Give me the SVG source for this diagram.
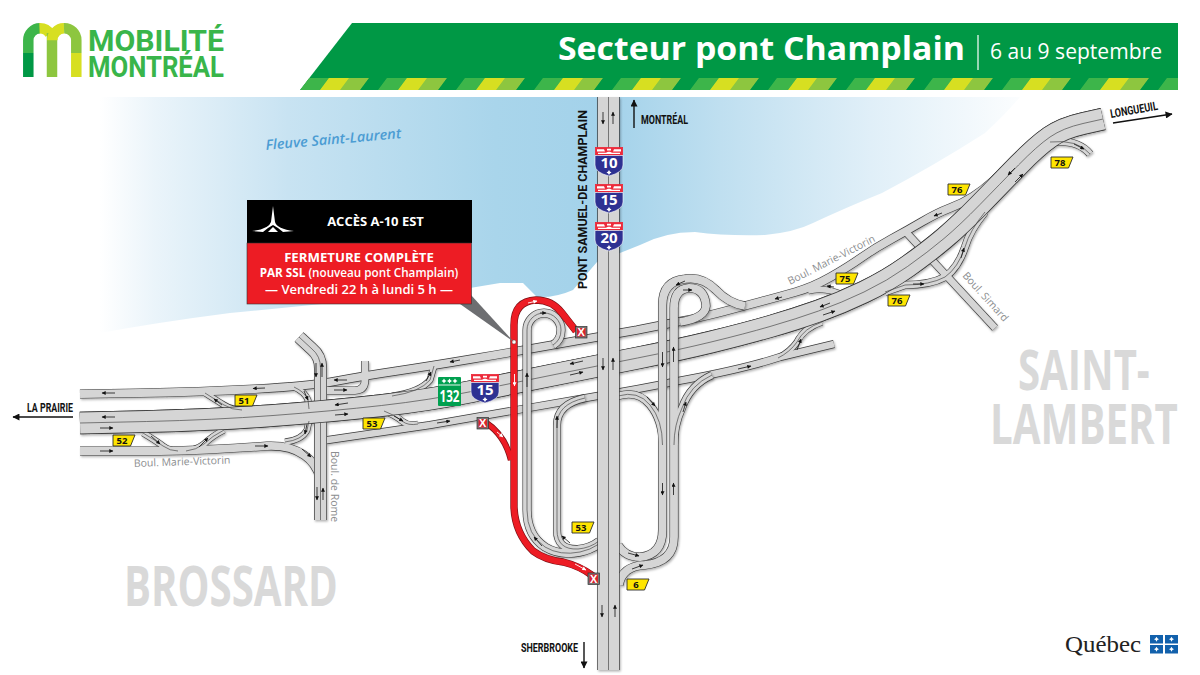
<svg xmlns="http://www.w3.org/2000/svg" width="1200" height="675" viewBox="0 0 1200 675">
<style>
.o,.f,.c,.a,.aw,.ab{fill:none}
.o{stroke:#3a3a3a;stroke-linejoin:round}
.f{stroke:#d5d5d5;stroke-linejoin:round}
.c{stroke:#4a4a4a;stroke-width:.7}
.o22{stroke-width:22.6}.f22{stroke-width:21.2}
.o21{stroke-width:22.400}.f21{stroke-width:21}
.o12{stroke-width:13}.f12{stroke-width:11.600}
.o8{stroke-width:9}.f8{stroke-width:7.800}
.o7{stroke-width:8}.f7{stroke-width:6.800}
.o6{stroke-width:6.800}.f6{stroke-width:5.600}
.a{stroke:#111;stroke-width:.8;marker-end:url(#ah)}
.aw{stroke:#fff;stroke-width:.9;marker-end:url(#ahw)}
.ab{stroke:#111;stroke-width:1.400;marker-end:url(#ahb)}
.red{fill:none;stroke:#ed1c24;stroke-linejoin:round}
.redo{fill:none;stroke:#7c1116;stroke-linejoin:round}
.sans{font-family:"Open Sans","Liberation Sans",sans-serif}
.cond{font-family:"Liberation Sans Narrow",Roboto,"Liberation Sans",sans-serif;font-weight:700;fill:#111;font-size:12px}
.rn{font-family:"Open Sans","Liberation Sans",sans-serif;font-size:10.500px;fill:#8c8e90}
.city{font-family:"Liberation Sans Narrow","Open Sans","Liberation Sans",sans-serif;font-weight:700;fill:#d9d9d9}
.sh{font-family:"Open Sans","Liberation Sans",sans-serif;font-weight:700;font-size:9.500px;fill:#111;text-anchor:middle}
.num{font-family:"Open Sans","Liberation Sans",sans-serif;font-weight:700;font-size:15px;fill:#fff;text-anchor:middle}
.w{fill:#fff;text-anchor:middle}
.xt{font-family:"Liberation Sans",sans-serif;font-weight:700;font-size:11px;fill:#fff;text-anchor:middle}
.logot{font-family:"Liberation Sans Narrow",Roboto,sans-serif;font-weight:700;font-size:30px;fill:#39b54a}
</style>
<defs>
<linearGradient id="water" gradientUnits="userSpaceOnUse" x1="100" y1="0" x2="1040" y2="0">
<stop offset="0" stop-color="#fff"/><stop offset=".06" stop-color="#eaf4fa"/><stop offset=".2" stop-color="#c8e3f2"/><stop offset=".42" stop-color="#a9d5eb"/><stop offset=".54" stop-color="#a3d2ea"/><stop offset=".66" stop-color="#bfdff0"/><stop offset=".82" stop-color="#e0eff8"/><stop offset="1" stop-color="#fff"/>
</linearGradient>
<pattern id="stripes" patternUnits="userSpaceOnUse" width="78" height="12" patternTransform="translate(300 90) skewX(-36.7)">
<rect width="20" height="12" fill="#3db54a"/><rect x="20" width="20" height="12" fill="#d7df21"/><rect x="40" width="20" height="12" fill="#8dc63f"/>
</pattern>
<marker id="ah" viewBox="0 0 6 6" refX="5.500" refY="3" markerUnits="userSpaceOnUse" markerWidth="5.500" markerHeight="4" orient="auto"><path d="M0 0L6 3L0 6Z" fill="#111"/></marker>
<marker id="ahw" viewBox="0 0 6 6" refX="5.500" refY="3" markerUnits="userSpaceOnUse" markerWidth="5.500" markerHeight="4" orient="auto"><path d="M0 0L6 3L0 6Z" fill="#fff"/></marker>
<marker id="ahb" viewBox="0 0 6 6" refX="5.500" refY="3" markerUnits="userSpaceOnUse" markerWidth="10" markerHeight="7" orient="auto"><path d="M0 0L6 3L0 6Z" fill="#111"/></marker>
<filter id="sd" x="-5%" y="-5%" width="110%" height="110%"><feDropShadow dx="1" dy="1.500" stdDeviation="1.100" flood-color="#000" flood-opacity=".3"/></filter>
<path id="shield" d="M0 0H22L17.500 11H0Z" fill="#ffe500" stroke="#2b2b2b" stroke-width=".9"/>
<path id="fleur" d="M0 -2.500L.9 -.9L2.500 0L.9 .9L0 2.500L-.9 .9L-2.500 0L-.9 -.9Z" fill="#fff"/>
<g id="inter">
<rect x=".4" y=".4" width="27.200" height="7.600" fill="#ed2a3a" stroke="#ed2a3a" stroke-width=".8"/>
<path d="M2 2.200H9L10 4.500H2ZM26 2.200H19L18 4.500H26ZM12 1.800H16V3.500H12ZM3 5.700H11L13 4.800H15L17 5.700H25V6.900H3Z" fill="#fff"/>
<path d="M0 8.500H28V18Q28 25.500 14 29Q0 25.500 0 18Z" fill="#2e3192" stroke="#fff" stroke-width=".6"/>
<use href="#fleur" x="14" y="25.500"/>
</g>
<path id="rMain" d="M80 423L146.500 421.500Q213 420 273 415.500Q333 411 381.500 405.500Q430 400 471.500 391.500Q513 383 555 374.500Q597 366 637.500 358Q678 350 711 342Q744 334 770 326.500Q796 319 818.500 311Q841 303 864 292Q887 281 907.500 266.500Q928 252 944 238.500Q960 225 980 204.500Q1000 184 1018.500 165Q1037 146 1050 137Q1063 128 1083 123.500L1103 119"/>
<path id="rTop" d="M80 394L140 393Q200 392 255 389Q310 386 336.500 381Q363 376 396.500 371Q430 366 471.500 359Q513 352 555 344.500Q597 337 637 330L677 322Q703 317 723.500 311.500Q744 306 761 301.500Q778 297 795.500 292Q813 287 830.500 277Q848 267 861.500 257.500Q875 248 891.500 239Q908 230 922.500 221.500Q937 213 950 208Q963 203 973 196.500Q983 190 993 181L1005 170"/>
<path id="rLow" d="M80 451L160 451Q210 450 267 446Q290 445 304 455Q316 463 320 478"/>
<path id="rThird" d="M321 441L430 425L597 396Q640 389 678 381Q744 369 780 357L834 344"/>
<path id="rRome" d="M320.500 520V368Q320.500 356 312 349L299 337"/>
<path id="r52a" d="M143 433Q155 440 163 446Q170 451 178 451"/>
<path id="r52b" d="M186 451Q196 450 204 444Q212 436 224 430"/>
<path id="r51" d="M205 393Q216 400 224 405Q232 410 242 410"/>
<path id="rT1" d="M294 387Q305 392 308 400L309 409"/>
<path id="rT2" d="M285 442Q302 440 307 430L309 421"/>
<path id="rFront" d="M325 390.500H355Q365 390 365 380V361"/>
<path id="rW" d="M392 396Q420 392 430 380L434 366"/>
<path id="r53e" d="M384 411Q395 415 402 421Q408 426 418 424"/>
<path id="r75" d="M808 291Q825 286 845 296"/>
<path id="r76a" d="M985 212Q970 230 965 247Q958 268 945 277Q930 285 905 285L885 292"/>
<path id="r77" d="M778 358Q790 352 797 342Q804 328 822 322"/>
<path id="r78" d="M1050 142Q1078 139 1090 154"/>
<path id="rSim" d="M905 231L995 328"/>
<path id="rNS" d="M608.500 97V670"/>
<path id="rL1" d="M553 345Q561 340 561 330A17 17 0 0 0 527 330V510Q527 535 545 547Q560 556 580 552Q590 550 599 544"/>
<path id="rL2" d="M585 398Q557 404 557 425V530Q557 550 578 549Q590 548 599 541"/>
<path id="rR1" d="M745 306Q728 303 716 290Q702 276 685 279Q662.500 281 662.500 305V530Q662.500 555 640 557Q625 557 618 545"/>
<path id="rR2" d="M680 322Q705 318 706 306Q705 288 689 288Q674 289 674 308V537Q674 562 645 565Q622 566 619 585"/>
<path id="rR3" d="M618 396Q638 390 650 405Q662.500 420 662.500 445"/>
<path id="rR4" d="M712 375Q690 385 682 408Q674 425 674 445"/>
</defs>

<rect width="1200" height="675" fill="#fff"/>
<path id="water-body" d="M100 97H1020Q1005 115 985 133Q935 165 882 193Q845 208 813 223Q795 232 765 235Q725 236 695 232Q665 232 640 245L620 253L597 262L573 290Q555 298 537 297L523 283H500L470 288Q350 302 230 313Q160 322 100 333Z" fill="url(#water)"/>

<g id="logo">
<g fill="none" stroke-width="10.500">
<path d="M28.300 53V40.200A11.900 11.900 0 0 1 40 28.300" stroke="#3db54a"/>
<path d="M39.500 28.300A11.900 11.900 0 0 1 50 34" stroke="#d7df21"/>
<path d="M52 33V77" stroke="#8dc63f"/>
<path d="M52.300 40.200A11.900 11.900 0 0 1 64 28.300" stroke="#d7df21"/>
<path d="M64 28.300A11.900 11.900 0 0 1 76.300 40.200V53" stroke="#8dc63f"/>
<path d="M28.300 53V77" stroke="#009845"/>
<path d="M76.300 53V77" stroke="#d7df21"/>
</g>
<text class="logot" x="88" y="51" textLength="136" lengthAdjust="spacingAndGlyphs">MOBILITÉ</text>
<text class="logot" x="88" y="77" textLength="136" lengthAdjust="spacingAndGlyphs">MONTRÉAL</text>
</g>

<g id="header">
<path d="M352 23H1178V90H300Z" fill="#009845"/>
<path d="M309 78H1178V90H300Z" fill="url(#stripes)"/>
<text class="sans" x="558" y="60" font-size="32.500" font-weight="700" fill="#fff" textLength="407" lengthAdjust="spacingAndGlyphs">Secteur pont Champlain</text>
<path d="M978 35V70" stroke="#fff" stroke-width="1.200"/>
<text class="sans" x="990" y="59" font-size="21.500" fill="#fff" textLength="172" lengthAdjust="spacingAndGlyphs">6 au 9 septembre</text>
</g>

<text class="sans" transform="translate(266 150) rotate(-5)" font-size="14" font-weight="600" font-style="italic" fill="#4b9cd3" textLength="136" lengthAdjust="spacingAndGlyphs">Fleuve Saint-Laurent</text>

<g id="connectors">
<g id="roads-under" filter="url(#sd)">
<use href="#rTop" class="o o8"/><use href="#rLow" class="o o8"/><use href="#rThird" class="o o7"/><use href="#r52a" class="o o6"/><use href="#r52b" class="o o6"/><use href="#r51" class="o o6"/><use href="#rT1" class="o o6"/><use href="#rT2" class="o o6"/><use href="#rFront" class="o o7"/><use href="#rW" class="o o6"/><use href="#r53e" class="o o6"/><use href="#r75" class="o o6"/><use href="#r76a" class="o o7"/><use href="#r77" class="o o6"/><use href="#r78" class="o o7"/><use href="#rSim" class="o o7"/><use href="#rMain" class="o o22"/>
<use href="#rTop" class="f f8"/><use href="#rLow" class="f f8"/><use href="#rThird" class="f f7"/><use href="#r52a" class="f f6"/><use href="#r52b" class="f f6"/><use href="#r51" class="f f6"/><use href="#rT1" class="f f6"/><use href="#rT2" class="f f6"/><use href="#rFront" class="f f7"/><use href="#rW" class="f f6"/><use href="#r53e" class="f f6"/><use href="#r75" class="f f6"/><use href="#r76a" class="f f7"/><use href="#r77" class="f f6"/><use href="#r78" class="f f7"/><use href="#rSim" class="f f7"/>
<use href="#rRome" class="o o12"/><use href="#rRome" class="f f12"/><use href="#rRome" class="c"/>
<use href="#rMain" class="o o22"/><use href="#rMain" class="f f22"/>
<use href="#rMain" class="c"/><use href="#r52a" class="c"/><use href="#r52b" class="c"/><use href="#r51" class="c"/><use href="#rT1" class="c"/><use href="#rT2" class="c"/><use href="#r53e" class="c"/><use href="#rW" class="c"/><use href="#r76a" class="c"/><use href="#r77" class="c"/><use href="#r78" class="c"/>
</g>
<g id="roads-over" filter="url(#sd)">
<use href="#rL1" class="o o8"/><use href="#rL2" class="o o7"/><use href="#rR3" class="o o7"/><use href="#rR4" class="o o7"/><use href="#rR1" class="o o8"/><use href="#rR2" class="o o8"/>
<use href="#rL1" class="f f8"/><use href="#rL2" class="f f7"/><use href="#rR3" class="f f7"/><use href="#rR4" class="f f7"/><use href="#rR1" class="f f8"/><use href="#rR2" class="f f8"/>
<use href="#rL1" class="c"/><use href="#rL2" class="c"/><use href="#rR3" class="c"/><use href="#rR4" class="c"/>
<use href="#rNS" class="o o21"/><use href="#rNS" class="f f21"/><use href="#rNS" class="c"/>
</g>
<g id="closures">
<path class="redo" stroke-width="7.400" d="M514 342V325Q514 301 536 300Q552 300 562 313L576 331"/>
<path class="redo" stroke-width="7.400" d="M514 342V507Q515 533 533 551Q545 560 563 562Q580 566 593 576"/>
<path class="redo" stroke-width="6.400" d="M485 422Q505 435 511 460"/>
<path class="red" stroke-width="6.200" d="M514 342V325Q514 301 536 300Q552 300 562 313L576 331"/>
<path class="red" stroke-width="6" d="M514 342V507Q515 533 533 551Q545 560 563 562Q580 566 593 576"/>
<path class="red" stroke-width="5" d="M485 422Q505 435 511 460"/>
</g>
<g id="arrows">
<path class="a" d="M115 393H102"/><path class="a" d="M265 388L253 388.500"/><path class="a" d="M115 417H102"/><path class="a" d="M100 428H113"/><path class="a" d="M100 451H113"/><path class="a" d="M255 446H268"/>
<path class="a" d="M348 403L335 405"/><path class="a" d="M335 415L348 414"/><path class="a" d="M347 380H334"/><path class="a" d="M334 390H347"/>
<path class="a" d="M316 363V377"/><path class="a" d="M322 377V363"/><path class="a" d="M317 487V500"/><path class="a" d="M323 500V488"/>
<path class="a" d="M222 405L214 399"/><path class="a" d="M151 436L160 444"/><path class="a" d="M199 447L208 438"/><path class="a" d="M304 391L308 400"/><path class="a" d="M307 424L305 434"/><path class="a" d="M302 449L311 457"/><path class="a" d="M426 381L431 372"/><path class="a" d="M394 416L403 421"/>
<path class="a" d="M460 360L450 362"/><path class="a" d="M527 387V373"/><path class="a" d="M583 361L570 364"/><path class="a" d="M570 375L583 372"/><path class="a" d="M437 423L450 421"/>
<path class="a" d="M603 358V370"/><path class="a" d="M613 370V358"/><path class="a" d="M602 605V617"/><path class="a" d="M615 617V605"/><path class="a" d="M603 112V124"/><path class="a" d="M613 124V112"/>
<path class="a" d="M540 313H546"/><path class="a" d="M557 428V416"/><path class="a" d="M542 546L534 537"/><path class="a" d="M570 543L562 536"/><path class="a" d="M628 553L639 556"/><path class="a" d="M632 569L643 565"/><path class="a" d="M647 397L655 406"/><path class="a" d="M683 412L686 402"/>
<path class="a" d="M662.500 352V367"/><path class="a" d="M673.500 362V347"/><path class="a" d="M662.500 483V495"/><path class="a" d="M673.500 495V483"/><path class="a" d="M685 281L676 285"/><path class="a" d="M683 290H692"/>
<path class="a" d="M782 297L775 299"/><path class="a" d="M834 287L827 286"/><path class="a" d="M942 213L934 216"/><path class="a" d="M830 303L820 307"/><path class="a" d="M823 315L835 311"/><path class="a" d="M738 369L751 366"/><path class="a" d="M913 284H924"/><path class="a" d="M961 258L964 248"/><path class="a" d="M1015 168L1008 175"/><path class="a" d="M1015 182L1023 174"/><path class="a" d="M797 350L801 339"/><path class="a" d="M1074 144L1084 149"/>
<path class="aw" d="M514.500 374V386"/><path class="aw" d="M497 432L503 437"/><path class="aw" d="M528 303L537 301"/><path class="aw" d="M575 564L586 570"/>
</g>
</g>
<circle cx="514" cy="342" r="2" fill="#fff" stroke="#444" stroke-width=".4"/>

<g id="callout">
<path d="M460 304L471 295L514 342Z" fill="#6d6e71"/>
<rect x="247" y="200" width="225" height="43" fill="#000"/>
<rect x="247" y="243" width="224.500" height="61" fill="#ed1c24" stroke="#333" stroke-width=".6"/>
<path d="M273 206L275 222Q277 229 294 231L283 232L278 228L273 225L268 228L263 232L252 231Q269 229 271 222Z" fill="#fff"/>
<path d="M273 227L278 232H268Z" fill="#fff"/>
<text class="sans w" x="375.500" y="226" font-size="13" font-weight="700">ACCÈS A-10 EST</text>
<text class="sans w" x="359" y="262" font-size="13.200" font-weight="700">FERMETURE COMPLÈTE</text>
<text class="sans w" x="359" y="277" font-size="11.700" font-weight="600"><tspan font-weight="700">PAR SSL</tspan> (nouveau pont Champlain)</text>
<text class="sans w" x="359" y="294" font-size="13" font-weight="600">— Vendredi 22 h à lundi 5 h —</text>
</g>

<g id="labels">
<text class="cond" transform="translate(587 289) rotate(-90)" font-size="13" textLength="179" lengthAdjust="spacingAndGlyphs">PONT SAMUEL-DE CHAMPLAIN</text>
<path class="ab" d="M634 128V100"/><text class="cond" x="641" y="124" textLength="47" lengthAdjust="spacingAndGlyphs">MONTRÉAL</text>
<path class="ab" d="M584 642V668"/><text class="cond" x="521" y="652" textLength="57" lengthAdjust="spacingAndGlyphs">SHERBROOKE</text>
<path class="ab" d="M73 417H13"/><text class="cond" x="27" y="412" textLength="46" lengthAdjust="spacingAndGlyphs">LA PRAIRIE</text>
<path class="ab" d="M1113 123L1172 114"/><text class="cond" transform="translate(1111 118) rotate(-10)" textLength="48" lengthAdjust="spacingAndGlyphs">LONGUEUIL</text>
<text class="rn" transform="translate(134 467) rotate(-2)">Boul. Marie-Victorin</text>
<text class="rn" transform="translate(790 285) rotate(-27)">Boul. Marie-Victorin</text>
<text class="rn" transform="translate(331 451) rotate(90)">Boul. de Rome</text>
<text class="rn" transform="translate(962 276) rotate(48)">Boul. Simard</text>
<text class="city" transform="translate(124 606) scale(.72 1)" font-size="56" textLength="297" lengthAdjust="spacingAndGlyphs">BROSSARD</text>
<text class="city" transform="translate(1018 390) scale(.72 1)" font-size="56" textLength="183" lengthAdjust="spacingAndGlyphs">SAINT-</text>
<text class="city" transform="translate(990 444) scale(.72 1)" font-size="56" textLength="261" lengthAdjust="spacingAndGlyphs">LAMBERT</text>
</g>

<g id="shields">
<g transform="translate(235 395)"><use href="#shield"/><text class="sh" x="9" y="9">51</text></g>
<g transform="translate(113 435)"><use href="#shield"/><text class="sh" x="9" y="9">52</text></g>
<g transform="translate(363 418)"><use href="#shield"/><text class="sh" x="9" y="9">53</text></g>
<g transform="translate(572 522)"><use href="#shield"/><text class="sh" x="9" y="9">53</text></g>
<g transform="translate(627 579)"><use href="#shield"/><text class="sh" x="9" y="9">6</text></g>
<g transform="translate(836 273)"><use href="#shield"/><text class="sh" x="9" y="9">75</text></g>
<g transform="translate(948 184)"><use href="#shield"/><text class="sh" x="9" y="9">76</text></g>
<g transform="translate(888 295)"><use href="#shield"/><text class="sh" x="9" y="9">76</text></g>
<g transform="translate(1051 157)"><use href="#shield"/><text class="sh" x="9" y="9">78</text></g>
<g transform="translate(595 147)"><use href="#inter"/><text class="num" x="14" y="21">10</text></g>
<g transform="translate(595 184)"><use href="#inter"/><text class="num" x="14" y="21">15</text></g>
<g transform="translate(595 222)"><use href="#inter"/><text class="num" x="14" y="21">20</text></g>
<g transform="translate(471 374)"><use href="#inter"/><text class="num" x="14" y="21">15</text></g>
<g id="s132">
<rect x="438" y="377" width="23" height="29" rx="1" fill="#00a04f"/>
<path d="M438.500 385H460.500" stroke="#fff" stroke-width=".9"/>
<use href="#fleur" x="444" y="381"/><use href="#fleur" x="449.500" y="381"/><use href="#fleur" x="455" y="381"/>
<text x="449.500" y="402" font-family="'Liberation Sans Narrow','Open Sans',sans-serif" font-weight="700" font-size="16" fill="#fff" text-anchor="middle" textLength="20" lengthAdjust="spacingAndGlyphs">132</text>
</g>
<g id="x1"><rect x="575.500" y="326.500" width="11.500" height="11.500" fill="#777" stroke="#333" stroke-width=".7"/><rect x="577" y="328" width="8.500" height="8.500" fill="#d9232e"/><text class="xt" x="581.200" y="336.200">X</text></g>
<g id="x2"><rect x="477" y="417.500" width="11.500" height="11.500" fill="#777" stroke="#333" stroke-width=".7"/><rect x="478.500" y="419" width="8.500" height="8.500" fill="#d9232e"/><text class="xt" x="482.700" y="427.200">X</text></g>
<g id="x3"><rect x="588" y="573" width="11.500" height="11.500" fill="#777" stroke="#333" stroke-width=".7"/><rect x="589.500" y="574.500" width="8.500" height="8.500" fill="#d9232e"/><text class="xt" x="593.700" y="582.700">X</text></g>
</g>

<g id="quebec">
<text x="1065" y="652" font-family="'Liberation Serif',serif" font-size="24" fill="#222" textLength="76" lengthAdjust="spacingAndGlyphs">Québec</text>
<g fill="#1261ac"><rect x="1150" y="635" width="13" height="8.500"/><rect x="1165" y="635" width="13" height="8.500"/><rect x="1150" y="645" width="13" height="8.500"/><rect x="1165" y="645" width="13" height="8.500"/></g>
<use href="#fleur" x="1156.500" y="639.200"/><use href="#fleur" x="1171.500" y="639.200"/><use href="#fleur" x="1156.500" y="649.200"/><use href="#fleur" x="1171.500" y="649.200"/>
</g>
</svg>
